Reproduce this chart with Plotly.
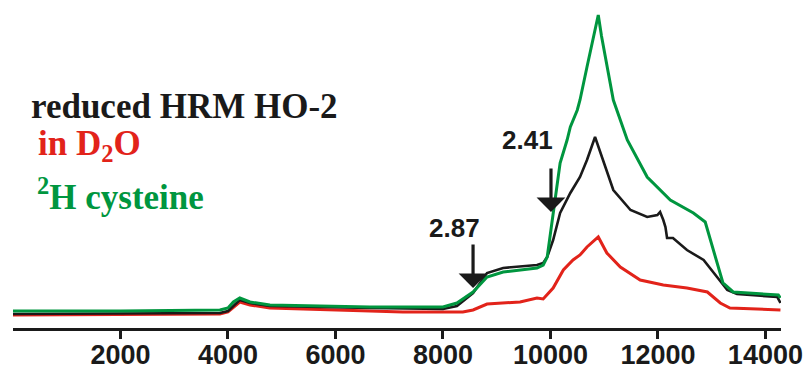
import plotly.graph_objects as go

# ---- data ----
green_x = [0, 2000, 3850, 4000, 4100, 4220, 4410, 4780, 6640, 8000, 8260, 8560, 8820, 9120,
           9750, 9865, 9940, 10000, 10050, 10180, 10310, 10370, 10500, 10550, 10680, 10800,
           10890, 10950, 11050, 11170, 11430, 11800, 12230, 12660, 12880, 13030, 13210,
           13400, 13770, 14240, 14280]
green_y = [17, 17, 18, 20, 26, 30, 26, 23, 21, 21, 25, 36, 51, 56,
           60, 63, 71, 95, 117, 165, 188, 201, 218, 228, 261, 290,
           313, 292, 261, 228, 188, 151, 128, 115, 106, 78, 45,
           36, 35, 33, 30]

black_x = [0, 3850, 4000, 4220, 4410, 4780, 6640, 8000, 8260, 8560, 8820, 9120, 9750, 9865,
           9940, 10050, 10180, 10370, 10550, 10680, 10830, 10980, 11170, 11490, 11800,
           11990, 12040, 12100, 12140, 12170, 12280, 12540, 12850, 13100, 13290, 13470,
           14220, 14280]
black_y = [14, 15, 17, 28, 25, 22, 20, 19, 22, 35, 55, 60, 63, 65,
           71, 88, 115, 135, 151, 168, 191, 168, 138, 118, 111,
           113, 116, 108, 101, 90, 90, 78, 68, 51, 38, 34,
           31, 25]

red_x = [0, 3850, 4000, 4220, 4410, 4780, 6640, 7255, 8370, 8560, 8820, 9120, 9435, 9750,
         9865, 10050, 10240, 10420, 10550, 10680, 10890, 11050, 11300, 11670, 12100, 12540,
         12920, 13160, 13340, 14280]
red_y = [13, 14, 16, 26, 23, 20, 17, 16, 16, 18, 24, 25, 26, 30,
         29, 40, 58, 68, 73, 81, 91, 75, 61, 48, 43, 40,
         36, 25, 20, 18]

tick_vals = [2000, 4000, 6000, 8000, 10000, 12000, 14000]
tick_text = ["2000", "4000", "6000", "8000", "10000", "12000", "14000"]

arrow_labels = ["2.87", "2.41"]
arrow_x = [8560, 10010]
arrow_y = [40, 116]

legend_lines = ["reduced HRM HO-2", "in D<sub>2</sub>O", "<sup>2</sup>H cysteine"]

BLACK = "#1a1a1a"
RED = "#e2231a"
GREEN = "#00963f"

W, H = 809, 370
ML, MR, MT, MB = 13, 28, 0, 42
PW, PH = W - ML - MR, H - MT - MB


def px2paper(px, py):
    return (px - ML) / PW, 1 - (py - MT) / PH


fig = go.Figure()
fig.add_trace(go.Scatter(x=red_x, y=red_y, mode="lines",
                         line=dict(color=RED, width=3), hoverinfo="skip"))
fig.add_trace(go.Scatter(x=black_x, y=black_y, mode="lines",
                         line=dict(color=BLACK, width=2.6), hoverinfo="skip"))
fig.add_trace(go.Scatter(x=green_x, y=green_y, mode="lines",
                         line=dict(color=GREEN, width=3), hoverinfo="skip"))

annotations = []
# arrows
for ax_, ay_ in zip(arrow_x, arrow_y):
    annotations.append(dict(x=ax_, y=ay_, xref="x", yref="y", text="", showarrow=True,
                            ax=0, ay=-45, arrowhead=1, arrowsize=1.5, arrowwidth=3.2,
                            arrowcolor=BLACK))
# arrow labels
label_pos = [(454, 228), (527, 140)]
for lab, (px, py) in zip(arrow_labels, label_pos):
    xp, yp = px2paper(px, py)
    annotations.append(dict(x=xp, y=yp, xref="paper", yref="paper",
                            text="<b>" + lab + "</b>", showarrow=False,
                            xanchor="center", yanchor="middle",
                            font=dict(family="Liberation Sans", size=26, color=BLACK)))

# coloured text block
legend_colors = [BLACK, RED, GREEN]
legend_pos = [(29, 107), (36, 146), (35, 194)]
for txt, col, (px, py) in zip(legend_lines, legend_colors, legend_pos):
    xp, yp = px2paper(px, py)
    annotations.append(dict(x=xp, y=yp, xref="paper", yref="paper",
                            text="<b>" + txt + "</b>", showarrow=False,
                            xanchor="left", yanchor="middle",
                            font=dict(family="Liberation Serif", size=35, color=col)))

fig.update_layout(
    width=W, height=H,
    margin=dict(l=ML, r=MR, t=MT, b=MB, autoexpand=False),
    paper_bgcolor="white", plot_bgcolor="white",
    showlegend=False,
    annotations=annotations,
    xaxis=dict(range=[0, 14290], tickvals=tick_vals, ticktext=tick_text,
               showgrid=False, zeroline=False, showline=True, linecolor=BLACK,
               linewidth=3, ticks="outside", ticklen=8, tickwidth=2.5, tickcolor=BLACK,
               ticklabelstandoff=-7,
               tickfont=dict(family="Liberation Sans", size=27, color=BLACK, weight="bold"),
               automargin=False),
    yaxis=dict(range=[0, 328], visible=False, showgrid=False, zeroline=False,
               automargin=False),
)

fig.write_html("out.html")
